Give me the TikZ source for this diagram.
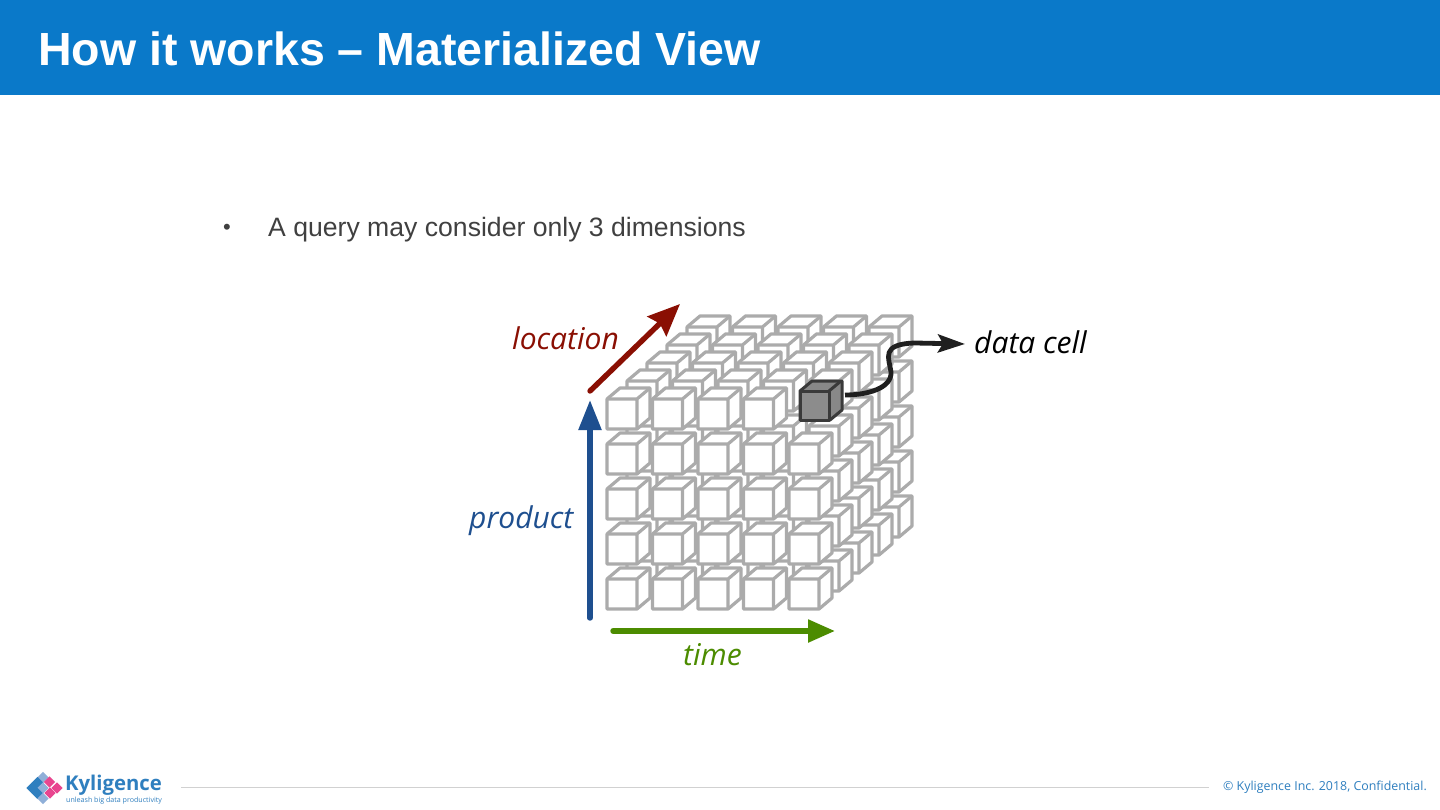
\documentclass[tikz,border=0pt]{standalone}
\usepackage{fontspec}
\setmainfont{Liberation Sans}
\newfontfamily\labelfont{Open Sans}
\usetikzlibrary{arrows.meta}
\definecolor{headerblue}{HTML}{0A79C9}
\definecolor{cubegray}{HTML}{ABABAB}
\definecolor{locred}{HTML}{8A0F03}
\definecolor{prodblue}{HTML}{1E4F8F}
\definecolor{timegreen}{HTML}{4C8C00}
\definecolor{cellfront}{HTML}{8C8C8C}
\definecolor{celledge}{HTML}{3A3A3A}
\definecolor{bodytext}{HTML}{404040}
\definecolor{logoblue}{HTML}{2F7FBF}
\definecolor{logolight}{HTML}{8FAFD8}
\definecolor{logopink}{HTML}{E8458F}
\newcommand{\cubeat}[6]{%
 % #1 x, #2 y (front-top-left), #3 w, #4 dx, #5 dy, #6 style
 \draw[#6] (#1,#2) -- ++(#4,-#5) -- ++(#3,0) -- ++(0,#3) -- ++(-#4,#5) -- ++(-#3,0) -- cycle;
 \draw[#6,fill=none] (#1,#2) -- ++(#3,0) -- ++(0,#3) ++(0,-#3) -- ++(#4,-#5);
}
\tikzset{
 x=1pt,y=-1pt,
 cube/.style={draw=cubegray,fill=white,line width=3.2pt,line join=round},
 shaft/.style={line width=5.4pt,line cap=round},
 lab/.style={font=\labelfont\itshape\fontsize{30}{30}\selectfont,anchor=base west,inner sep=0pt},
 diam/.style={rotate=45,minimum size=7.8pt,inner sep=0pt,fill=#1},
}
\begin{document}
\begin{tikzpicture}
\useasboundingbox (0,0) rectangle (1440,810);
\fill[white] (0,0) rectangle (1440,810);
\fill[headerblue] (0,0) rectangle (1440,95);
\node[anchor=base west,inner sep=0pt,text=white,font=\bfseries\fontsize{46.5}{46}\selectfont] (title) at (38,65.5) {How it works – Materialized View};
\node[anchor=base west,inner sep=0pt,text=bodytext,font=\fontsize{22}{22}\selectfont] (bullet) at (223,235) {•};
\node[anchor=base west,inner sep=0pt,text=bodytext,font=\fontsize{26.6}{26}\selectfont] (query) at (268,236.5) {A query may consider only 3 dimensions};
% cubes, back layers first
\foreach \l in {4,3,2,1,0}{
 \foreach \r in {0,...,4}{
  \foreach \c in {4,3,2,1,0}{
   \pgfmathsetmacro{\cx}{607+45.5*\c+20*\l}
   \pgfmathsetmacro{\cy}{399+45*\r-18*\l}
   \pgfmathtruncatemacro{\skip}{(\l==0)&&(\r==0)&&(\c==4)}
   \ifnum\skip=0
    \cubeat{\cx}{\cy}{30}{13}{11}{cube}
   \fi
  }
 }
}
% data cell cube
\draw[draw=celledge,fill=cellfront!70!gray,line width=3pt,line join=round] (800,391) -- ++(12,-10) -- ++(30,0) -- ++(0,29) -- ++(-12,10) -- ++(-30,0) -- cycle;
\draw[draw=celledge,fill=cellfront,line width=3pt,line join=round] (800,391) rectangle (829,420);
\draw[draw=celledge,line width=3pt] (829,391) -- (841,381);
% arrows
\coordinate (prodA) at (590,618); \coordinate (prodB) at (590,400);
\coordinate (locA) at (590,391); \coordinate (locB) at (680,304);
\coordinate (timeA) at (613,631); \coordinate (timeB) at (835,631);
\coordinate (cellA) at (845,395); \coordinate (cellB) at (965,344);
\draw[shaft,draw=prodblue,-{Triangle[length=30pt,width=22pt]}] (prodA) -- (prodB);
\draw[shaft,draw=locred,-{Stealth[length=32pt,width=27pt,inset=4pt]}] (locA) -- (locB);
\draw[shaft,draw=timegreen,-{Triangle[length=27pt,width=22pt]}] (timeA) -- (timeB);
\draw[line width=4.8pt,draw=black!88,-{Stealth[length=27pt,width=18pt,inset=5pt]}] (cellA) .. controls (868,395) and (892,388) .. (891,372) .. controls (889,358) and (880,344) .. (915,343) -- (cellB);
% labels
\node[lab,text=locred] (location) at (512,349) {location};
\node[lab,text=prodblue] (product) at (469,528) {product};
\node[lab,text=timegreen] (time) at (683,665) {time};
\node[lab,text=black] (datacell) at (974,353) {data cell};
% footer
\coordinate (ruleA) at (181,787); \coordinate (ruleB) at (1209,787);
\draw[draw=black!18,line width=1pt] (ruleA) -- (ruleB);
\node[anchor=base west,inner sep=0pt,text=logoblue,font=\labelfont\fontsize{12.4}{12.4}\selectfont] (copy) at (1223,790) {© Kyligence Inc. 2018, Confidential.};
\node[diam=logolight] (d1) at (43,777.5) {};
\node[diam=logoblue] (d2) at (37.5,782.5) {};
\node[diam=logoblue] (d3) at (32,788) {};
\node[diam=logolight] (d4) at (43,788) {};
\node[diam=logopink] (d5) at (49.5,782) {};
\node[diam=logopink] (d6) at (57,788) {};
\node[diam=logopink] (d7) at (50,793) {};
\node[diam=logoblue] (d8) at (37.5,793.5) {};
\node[diam=logolight] (d9) at (43,798.5) {};
\node[anchor=base west,inner sep=0pt,text=logoblue,font=\labelfont\bfseries\fontsize{20.3}{20}\selectfont] (brand) at (65,790) {Kyligence};
\node[anchor=base west,inner sep=0pt,text=logoblue,font=\labelfont\fontsize{7.1}{7.1}\selectfont] (tag) at (66,802) {unleash big data productivity};
\end{tikzpicture}
\end{document}
